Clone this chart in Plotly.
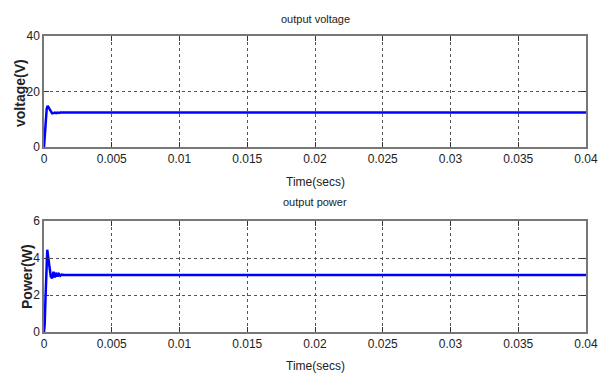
import plotly.graph_objects as go
from plotly.subplots import make_subplots

# Voltage trace
t_v = [0, 0.00005, 0.0001, 0.00015, 0.0002, 0.00027, 0.00032, 0.0004, 0.0005, 0.0006,
       0.0007, 0.0008, 0.0009, 0.001, 0.0011, 0.0012, 0.04]
v_v = [0, 3.5, 8.0, 11.5, 13.8, 14.8, 14.4, 13.4, 12.5, 12.1,
       12.2, 12.4, 12.2, 12.4, 12.3, 12.4, 12.4]

# Power trace
t_p = [0, 0.00005, 0.0001, 0.00015, 0.0002, 0.00024, 0.0003, 0.0004, 0.0005, 0.0006,
       0.0007, 0.0008, 0.0009, 0.001, 0.0011, 0.0012, 0.0013, 0.0015, 0.04]
p_p = [0, 0.4, 1.6, 3.2, 4.2, 4.45, 4.1, 3.5, 3.0, 2.9,
       3.25, 2.95, 3.2, 3.0, 3.13, 3.04, 3.1, 3.08, 3.08]

x_ticks = [0, 0.005, 0.01, 0.015, 0.02, 0.025, 0.03, 0.035, 0.04]
x_labels = ["0", "0.005", "0.01", "0.015", "0.02", "0.025", "0.03", "0.035", "0.04"]
v_ticks = [0, 20, 40]
p_ticks = [0, 2, 4, 6]

W, H = 608, 374
L, R = 44, 586
font_fam = "Liberation Sans Narrow, Liberation Sans, Arial, sans-serif"

fig = make_subplots(rows=2, cols=1)
fig.add_trace(go.Scatter(x=t_v, y=v_v, mode="lines",
                         line=dict(color="#0000FF", width=2.5), showlegend=False), row=1, col=1)
fig.add_trace(go.Scatter(x=t_p, y=p_p, mode="lines",
                         line=dict(color="#0000FF", width=2.5), showlegend=False), row=2, col=1)

def ydom(top_px, bot_px):
    return [1 - bot_px / H, 1 - top_px / H]

axis_common = dict(showline=True, mirror="ticks", linecolor="#777777", linewidth=1.5,
                   ticks="inside", ticklen=5, tickcolor="#333333",
                   showgrid=True, gridcolor="#555555", griddash="dot", gridwidth=1,
                   zeroline=False, automargin=False,
                   tickfont=dict(family=font_fam, size=12, color="#222222"))

fig.update_xaxes(**axis_common, range=[0, 0.04], tickvals=x_ticks, ticktext=x_labels,
                 domain=[L / W, R / W])
fig.update_yaxes(**axis_common)
fig.update_layout(
    yaxis=dict(range=[0, 40], tickvals=v_ticks, domain=ydom(36, 147)),
    yaxis2=dict(range=[0, 6], tickvals=p_ticks, domain=ydom(221, 332)),
)

def ann(text, x_px, y_px, bold=False, angle=0, size=12):
    fig.add_annotation(text=("<b>%s</b>" % text) if bold else text,
                       xref="paper", yref="paper",
                       x=x_px / W, y=1 - y_px / H, showarrow=False,
                       textangle=angle, xanchor="center", yanchor="middle",
                       font=dict(family=font_fam, size=size, color="#222222"))

ann("output voltage", 315, 19, size=11)
ann("Time(secs)", 315, 182, size=12)
ann("output power", 315, 202, size=11)
ann("Time(secs)", 315, 366, size=12)
ann("voltage(V)", 20, 93, bold=True, angle=-90, size=14)
ann("Power(W)", 27, 277, bold=True, angle=-90, size=14)

fig.update_layout(width=W, height=H, margin=dict(l=0, r=0, t=0, b=0, autoexpand=False),
                  plot_bgcolor="white", paper_bgcolor="white")

fig.write_html("out.html", config={"displayModeBar": False},
               post_script="document.body.style.margin='0';document.body.style.overflow='hidden';")
